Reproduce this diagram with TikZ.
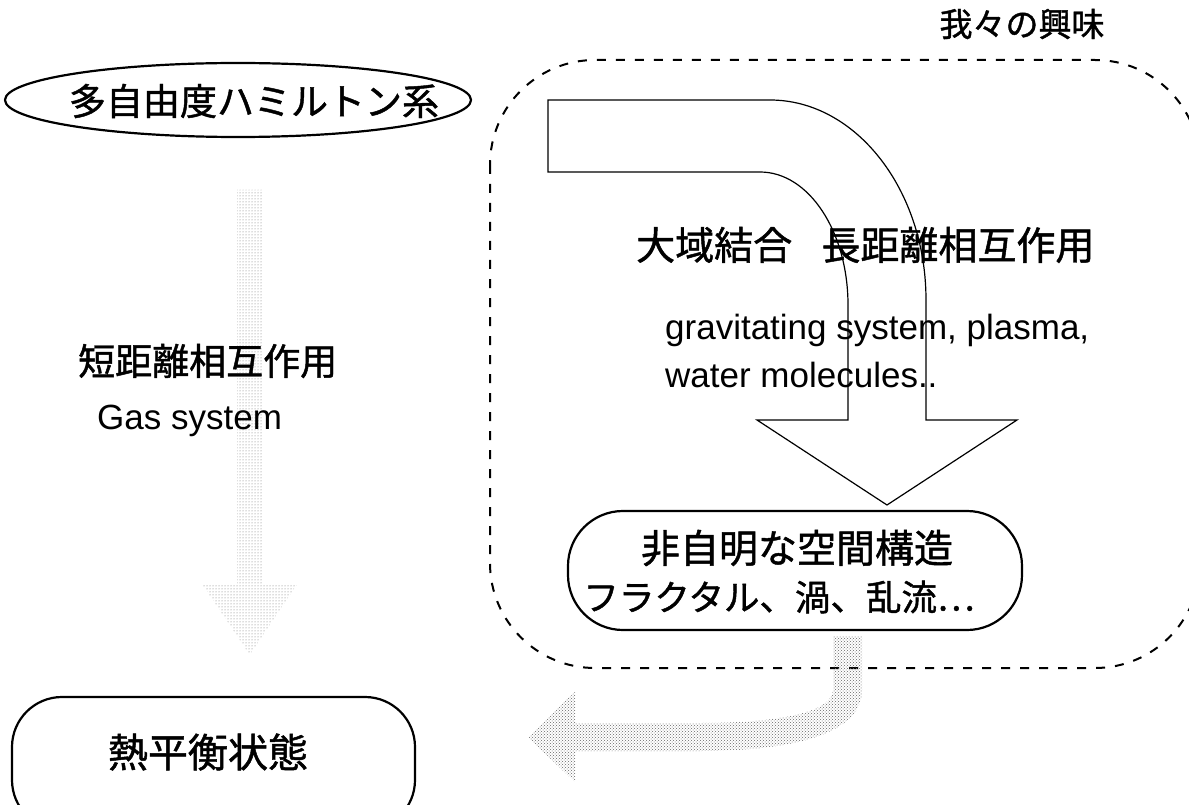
\documentclass[tikz,border=0pt]{standalone}
\usepackage{fontspec}
\setmainfont{Liberation Sans}
\newfontfamily\jp[FakeBold=1.2]{Noto Sans CJK JP}
\usetikzlibrary{patterns,shapes.geometric}
\tikzset{
  jtext/.style={font=\jp\fontsize{37pt}{44pt}\selectfont, inner sep=0pt},
  ltext/.style={font=\fontsize{35pt}{45pt}\selectfont, inner sep=0pt, align=left},
  solidbox/.style={draw=black, line width=2.2pt},
  dashbox/.style={draw=black, line width=2pt, dash pattern=on 9pt off 10pt},
  grayarrowA/.style={pattern=dots, pattern color=black!55, draw=none},
  grayarrowB/.style={pattern=crosshatch dots, pattern color=black!60, draw=none}
}
\begin{document}
\begin{tikzpicture}[x=1pt,y=-1pt]
\useasboundingbox (0,0) rectangle (1189,805);
\fill[white] (0,0) rectangle (1189,805);

% region of interest
\draw[dashbox, rounded corners=105pt] (490,60) rectangle (1200,668);
\node[jtext, font=\jp\fontsize{33pt}{40pt}\selectfont] (interest) at (1022,24) {我々の興味};

% left column
\node[solidbox, ellipse, minimum width=466pt, minimum height=74pt, inner sep=0pt] (ham) at (238,100) {};
\node[jtext] (hamtext) at (254,101) {多自由度ハミルトン系};

\path[grayarrowA] (237,190) -- (263,190) -- (263,585) -- (297,585) -- (250,655) -- (203,585) -- (237,585) -- cycle;

\node[jtext, anchor=west] (short) at (78,361) {短距離相互作用};
\node[ltext, anchor=west] (gas) at (97,421) {Gas system};

\draw[solidbox, rounded corners=50pt] (12,697) rectangle (415,830);
\node[jtext, font=\jp\fontsize{40pt}{48pt}\selectfont] (eq) at (208,752) {熱平衡状態};

% big white bent arrow
\draw[line width=1.2pt, fill=white] (548,100) -- (770,100) .. controls (856,100) and (926,190) .. (926,300)
  -- (926,420) -- (1017,420) -- (887,505) -- (757,420) -- (848,420) -- (848,305)
  .. controls (848,232) and (809,172) .. (760,172) -- (548,172) -- cycle;

\node[jtext, anchor=west, font=\jp\fontsize{39pt}{44pt}\selectfont] (glob) at (636,245) {大域結合\hspace{0.75em}長距離相互作用};
\node[ltext, anchor=west] (grav) at (665,330) {gravitating system, plasma,};
\node[ltext, anchor=west] (water) at (665,375) {water molecules..};

% non-trivial structure box
\draw[solidbox, fill=white, rounded corners=55pt] (568,511) rectangle (1022,630);
\node[jtext, font=\jp\fontsize{39pt}{44pt}\selectfont] (nontriv) at (797,548) {非自明な空間構造};
\node[jtext, font=\jp\fontsize{35.5pt}{40pt}\selectfont] (fract) at (779,597) {フラクタル、渦、乱流…};

% curved gray arrow
\path[grayarrowB] (833,636) -- (862,636) -- (862,690) .. controls (862,735) and (790,751) .. (700,751)
  -- (575,751) -- (575,782) -- (528,737) -- (575,692) -- (575,723) -- (700,723)
  .. controls (780,723) and (833,712) .. (833,690) -- cycle;
\end{tikzpicture}
\end{document}
